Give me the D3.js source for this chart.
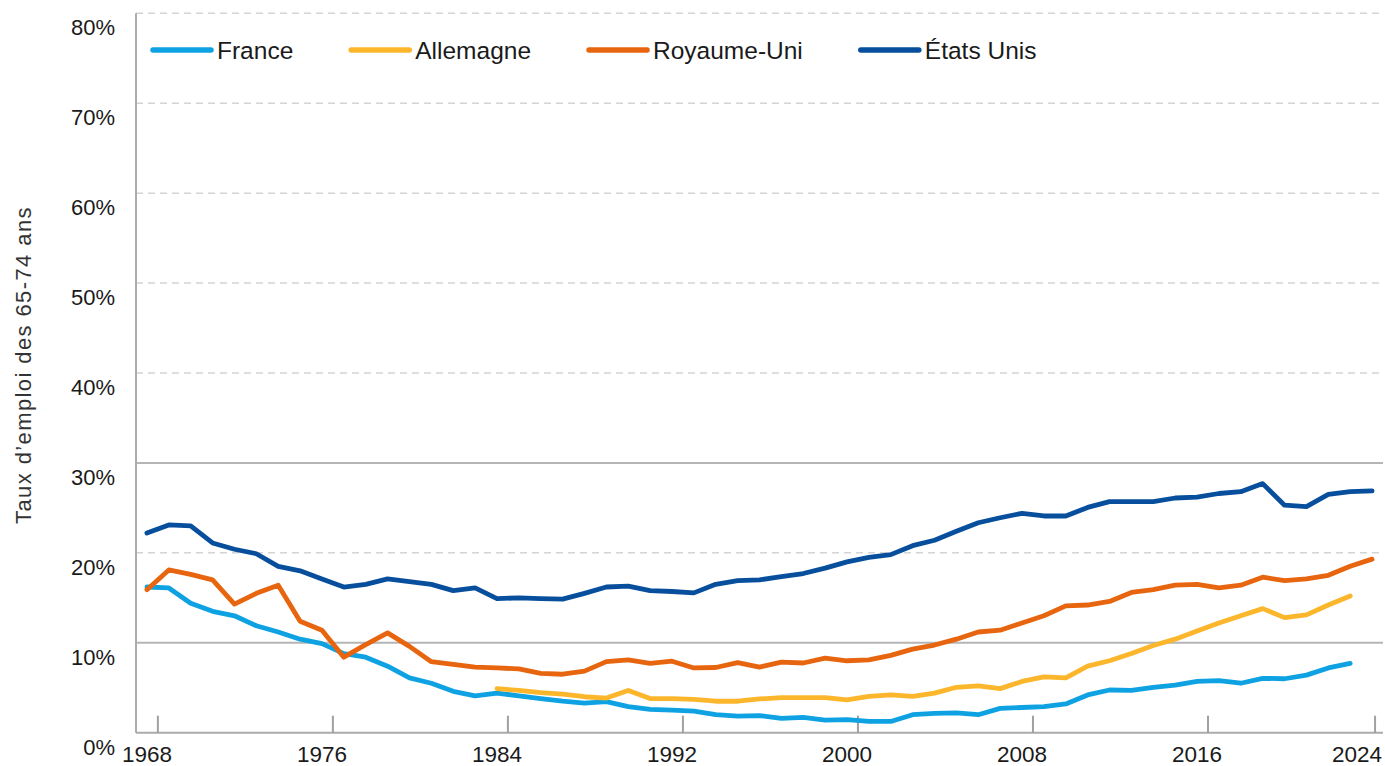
<!DOCTYPE html>
<html>
<head>
<meta charset="utf-8">
<script src="https://cdn.jsdelivr.net/npm/d3@7"></script>
<style>
  body { margin: 0; background: #fff; }
  svg { display: block; }
</style>
</head>
<body>
<svg id="chart" width="1385" height="766"></svg>
<script>
// Years on the x-axis (one point per year)
const years = d3.range(1968, 2025);

// Employment rate of 65-74 year olds, in %
const france = [16.2, 16.1, 14.4, 13.5, 13.0, 11.9, 11.2, 10.4, 9.9, 8.8,
    8.4, 7.4, 6.1, 5.5, 4.6, 4.1, 4.4, 4.1, 3.8, 3.5,
    3.3, 3.45, 2.9, 2.6, 2.5, 2.4, 2.0, 1.85, 1.9, 1.6,
    1.7, 1.4, 1.45, 1.25, 1.25, 2.0, 2.15, 2.2, 2.0, 2.7,
    2.8, 2.9, 3.2, 4.2, 4.75, 4.7, 5.05, 5.3, 5.7, 5.8,
    5.5, 6.05, 6.0, 6.4, 7.2, 7.7, null];

// Germany starts in 1984
const allemagne = [null, null, null, null, null, null, null, null, null, null,
    null, null, null, null, null, null, 4.9, 4.7, 4.45, 4.3,
    4.0, 3.85, 4.7, 3.8, 3.8, 3.7, 3.5, 3.5, 3.75, 3.9,
    3.9, 3.9, 3.65, 4.05, 4.2, 4.05, 4.4, 5.05, 5.2, 4.9,
    5.7, 6.2, 6.1, 7.4, 8.0, 8.8, 9.7, 10.4, 11.3, 12.2,
    13.0, 13.8, 12.8, 13.1, 14.2, 15.2, null];

const royaumeUni = [15.9, 18.1, 17.6, 17.0, 14.3, 15.5, 16.4, 12.4, 11.4, 8.4,
    9.8, 11.1, 9.6, 7.9, 7.6, 7.3, 7.2, 7.1, 6.6, 6.5,
    6.85, 7.9, 8.1, 7.7, 7.95, 7.2, 7.25, 7.8, 7.3, 7.85,
    7.75, 8.3, 8.0, 8.1, 8.6, 9.3, 9.75, 10.4, 11.2, 11.4,
    12.2, 13.0, 14.1, 14.2, 14.6, 15.6, 15.9, 16.4, 16.5, 16.1,
    16.4, 17.3, 16.9, 17.1, 17.5, 18.5, 19.3];

const etatsUnis = [22.2, 23.1, 23.0, 21.1, 20.4, 19.9, 18.5, 18.0, 17.1, 16.2,
    16.5, 17.1, 16.8, 16.5, 15.8, 16.1, 14.9, 15.0, 14.9, 14.85,
    15.5, 16.2, 16.3, 15.8, 15.7, 15.55, 16.5, 16.9, 17.0, 17.35,
    17.7, 18.3, 19.0, 19.5, 19.8, 20.8, 21.4, 22.4, 23.35, 23.9,
    24.4, 24.1, 24.1, 25.05, 25.7, 25.7, 25.7, 26.1, 26.2, 26.6,
    26.8, 27.7, 25.3, 25.15, 26.5, 26.8, 26.9];

const seriesNames = ["France", "Allemagne", "Royaume-Uni", "États Unis"];
const seriesColors = ["#0ea2e3", "#fbb62c", "#e8650f", "#074f9c"];
const seriesValues = [france, allemagne, royaumeUni, etatsUnis];

// Axis ticks
const yTicks = [0, 10, 20, 30, 40, 50, 60, 70, 80];
const solidGrid = [10, 30]; // the other gridlines are dashed
const xTickYears = [1968, 1976, 1984, 1992, 2000, 2008, 2016, 2024];

const yTitle = "Taux d\u2019emploi des 65-74  ans";

const svg = d3.select('#chart');
const width = 1385;
const plotLeft = 136, plotRight = 1383, plotTop = 13.3, plotBottom = 732.7;

// Category axis: each year sits in the middle of its slot
const xScale = d3.scaleLinear()
    .domain([years[0] - 0.5, years[years.length - 1] + 0.5])
    .range([plotLeft, plotRight]);

const yScale = d3.scaleLinear()
    .domain([0, 80])
    .range([plotBottom, plotTop]);

const font = "'Liberation Sans', Arial, sans-serif";

// Gridlines
svg.append('g')
    .selectAll('line')
    .data(yTicks.filter(d => d > 0))
    .enter()
    .append('line')
        .attr('x1', plotLeft)
        .attr('x2', plotRight)
        .attr('y1', d => yScale(d))
        .attr('y2', d => yScale(d))
        .attr('stroke', d => solidGrid.includes(d) ? '#b5b5b5' : '#d4d4d4')
        .attr('stroke-width', d => solidGrid.includes(d) ? 2 : 1.5)
        .attr('stroke-dasharray', d => solidGrid.includes(d) ? null : '7,5');

// Y axis line + labels
svg.append('line')
    .attr('x1', plotLeft).attr('x2', plotLeft)
    .attr('y1', plotTop).attr('y2', plotBottom)
    .attr('stroke', '#ababab')
    .attr('stroke-width', 2);

svg.append('g')
    .selectAll('text')
    .data(yTicks)
    .enter()
    .append('text')
        .attr('x', 115)
        .attr('y', d => yScale(d) + 22)
        .attr('text-anchor', 'end')
        .style('font-family', font)
        .style('font-size', '22px')
        .style('fill', '#1a1a1a')
        .text(d => d + '%');

// X axis line, ticks (between categories, pointing up) and labels
svg.append('line')
    .attr('x1', plotLeft).attr('x2', plotRight)
    .attr('y1', plotBottom).attr('y2', plotBottom)
    .attr('stroke', '#ababab')
    .attr('stroke-width', 2);

const lastYear = xTickYears[xTickYears.length - 1];

svg.append('g')
    .selectAll('line')
    .data(xTickYears)
    .enter()
    .append('line')
        .attr('x1', d => d === lastYear ? xScale(d) + 3 : xScale(d + 0.5))
        .attr('x2', d => d === lastYear ? xScale(d) + 3 : xScale(d + 0.5))
        .attr('y1', plotBottom)
        .attr('y2', plotBottom - 17)
        .attr('stroke', '#a0a0a0')
        .attr('stroke-width', 2);

svg.append('g')
    .selectAll('text')
    .data(xTickYears)
    .enter()
    .append('text')
        // last label gets pushed in so it stays inside the picture
        .attr('x', d => d === lastYear ? width - 3 : xScale(d))
        .attr('y', 762)
        .attr('text-anchor', d => d === lastYear ? 'end' : 'middle')
        .style('font-family', font)
        .style('font-size', '22.5px')
        .style('fill', '#1a1a1a')
        .text(d => d);

// Y axis title
svg.append('text')
    .attr('transform', 'translate(31,365) rotate(-90)')
    .attr('text-anchor', 'middle')
    .style('font-family', font)
    .style('font-size', '22px')
    .style('letter-spacing', '1.4px')
    .style('fill', '#333')
    .text(yTitle);

// Lines
const line = d3.line()
    .defined(d => d[1] != null)
    .x(d => xScale(d[0]))
    .y(d => yScale(d[1]));

seriesValues.forEach((vals, i) => {
    svg.append('path')
        .datum(years.map((y, j) => [y, vals[j]]))
        .attr('d', line)
        .attr('fill', 'none')
        .attr('stroke', seriesColors[i])
        .attr('stroke-width', 4.8)
        .attr('stroke-linejoin', 'round')
        .attr('stroke-linecap', 'round');
});

// Legend (one row at the top)
const legend = svg.append('g');
let lx = 153;
seriesNames.forEach((name, i) => {
    legend.append('line')
        .attr('x1', lx).attr('x2', lx + 58)
        .attr('y1', 50).attr('y2', 50)
        .attr('stroke', seriesColors[i])
        .attr('stroke-width', 5.5)
        .attr('stroke-linecap', 'round');
    const t = legend.append('text')
        .attr('x', lx + 64)
        .attr('y', 59)
        .style('font-family', font)
        .style('font-size', '24.5px')
        .style('fill', '#1a1a1a')
        .text(name);
    lx += 64 + t.node().getComputedTextLength() + 58;
});
</script>
</body>
</html>
